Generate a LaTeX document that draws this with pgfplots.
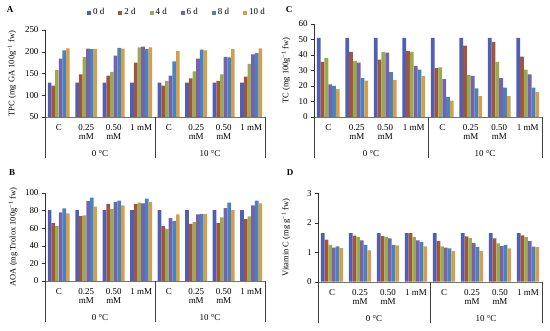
\documentclass[border=0pt]{standalone}
\usepackage{fontspec}
\setmainfont{Liberation Serif}
\usepackage{pgfplots}
\usepackage{pgfplotstable}
\pgfplotsset{compat=1.18}

\definecolor{c0}{HTML}{4E5FB5}
\definecolor{c1}{HTML}{A0563E}
\definecolor{c2}{HTML}{9AAA4C}
\definecolor{c3}{HTML}{7462AE}
\definecolor{c4}{HTML}{4A82BE}
\definecolor{c5}{HTML}{D0A04C}

\pgfplotstableread{
x d0 d2 d4 d6 d8 d10
0 129 122 158 184 203 208
1 129 148 188 207 206 206
2 129 145 154 191 209 207
3 129 175 210 212 206 210
4 129 122 133 145 178 202
5 129 139 155 184 205 203
6 129 133 148 188 187 206
7 129 143 172 194 197 208
}\tpc

\pgfplotstableread{
x d0 d2 d4 d6 d8 d10
0 51 35.5 38 21 20 18
1 51 42 36 35 25 23.5
2 51 37 42 41.5 29 24
3 51 42.5 42 33 30.5 26.5
4 51 31.5 32 24.5 13 10.5
5 51 46 27 26.5 18.5 13.5
6 51 48.5 35.5 25 19 13.5
7 51 39 30.5 27.5 19 16
}\tc

\pgfplotstableread{
x d0 d2 d4 d6 d8 d10
0 80.5 65.8 62.4 78 82.5 76.8
1 80.5 73.8 74.5 90.9 94.7 84.4
2 80.5 87.5 81.7 90 91.2 86
3 80.5 87.5 89 88.2 93.5 90
4 80.5 62.4 59.3 71.5 68 75.7
5 80.5 65 67 75.7 76.4 76
6 80.5 65.8 72.2 82.9 89 80.6
7 80.5 70.3 73.4 86 91.2 88.2
}\aoa

\pgfplotstableread{
x d0 d2 d4 d6 d8 d10
0 1.65 1.43 1.25 1.16 1.20 1.14
1 1.65 1.56 1.52 1.40 1.25 1.06
2 1.65 1.55 1.52 1.47 1.25 1.23
3 1.65 1.65 1.52 1.40 1.35 1.20
4 1.65 1.38 1.20 1.16 1.13 1.04
5 1.65 1.54 1.49 1.31 1.17 1.04
6 1.65 1.47 1.30 1.21 1.25 1.13
7 1.65 1.57 1.51 1.38 1.19 1.17
}\vitc

\newcommand{\sixbars}[1]{%
  \addplot[fill=c0, draw=none, bar shift=-0.3333] table[x=x,y=d0]{#1};
  \addplot[fill=c1, draw=none, bar shift=-0.2] table[x=x,y=d2]{#1};
  \addplot[fill=c2, draw=none, bar shift=-0.0667] table[x=x,y=d4]{#1};
  \addplot[fill=c3, draw=none, bar shift=0.0667] table[x=x,y=d6]{#1};
  \addplot[fill=c4, draw=none, bar shift=0.2] table[x=x,y=d8]{#1};
  \addplot[fill=c5, draw=none, bar shift=0.3333] table[x=x,y=d10]{#1};
}

\newcommand{\groups}{%
  \draw[black!75] (rel axis cs:0,0) -- ([yshift=-41bp]rel axis cs:0,0);
  \draw[black!75] (rel axis cs:0.5,0) -- ([yshift=-41bp]rel axis cs:0.5,0);
  \draw[black!75] (rel axis cs:1,0) -- ([yshift=-41bp]rel axis cs:1,0);
  \node[font=\fontsize{9}{10}\selectfont] at ([yshift=-37bp]rel axis cs:0.25,0) {0 °C};
  \node[font=\fontsize{9}{10}\selectfont] at ([yshift=-37bp]rel axis cs:0.75,0) {10 °C};
}

\pgfplotsset{panel/.style={
  scale only axis, ybar, bar width=0.1333, clip mode=individual,
  anchor=south west,
  xmin=-0.5, xmax=7.5, xtick={0,...,7},
  xticklabels={C,0.25\\mM,0.50\\mM,1 mM,C,0.25\\mM,0.50\\mM,1 mM},
  xticklabel style={align=center, font=\fontsize{9}{9.5}\selectfont, yshift=-1bp},
  x tick style={draw=none},
  axis x line*=bottom, axis y line*=left,
  x axis line style={black!55, -},
  y axis line style={black!80, -},
  tick align=outside, major tick length=3bp,
  ytick style={black!80},
  yticklabel style={font=\fontsize{9}{10}\selectfont, /pgf/number format/assume math mode=true},
  ylabel style={font=\fontsize{8.5}{9}\selectfont, anchor=center},
}}

\begin{document}
\begin{tikzpicture}
\useasboundingbox (0,0) rectangle (550bp,331bp);

% Panel labels
\node[font=\bfseries\fontsize{9}{10}\selectfont] at (10bp,321bp) {A};
\node[font=\bfseries\fontsize{9}{10}\selectfont] at (289bp,321bp) {C};
\node[font=\bfseries\fontsize{9}{10}\selectfont] at (12bp,158bp) {B};
\node[font=\bfseries\fontsize{9}{10}\selectfont] at (290bp,158bp) {D};

% Panel A
\begin{axis}[panel, at={(45bp,214bp)}, width=220bp, height=87bp,
  ymin=50, ymax=250, ytick={50,100,150,200,250},
  ylabel={TPC (mg GA 100g\textsuperscript{−1} fw)},
  ylabel style={at={(axis description cs:-0.15,0.5)}},
  legend columns=6,
  legend style={draw=none, at={(0.6,1.2)}, anchor=center,
    font=\fontsize{9}{10}\selectfont,
    /tikz/every even column/.append style={column sep=12bp}},
  legend image code/.code={\path[#1, draw=none] (0bp,-2bp) rectangle (4bp,2bp);},
]
\sixbars{\tpc}
\groups
\legend{0 d,2 d,4 d,6 d,8 d,10 d}
\end{axis}

% Panel C
\begin{axis}[panel, at={(314bp,214bp)}, width=228bp, height=93bp,
  ymin=0, ymax=60, ytick={0,10,...,60},
  ylabel={TC (mg 100g\textsuperscript{−1} fw)},
  ylabel style={at={(axis description cs:-0.123,0.5)}},
]
\sixbars{\tc}
\groups
\end{axis}

% Panel B
\begin{axis}[panel, at={(45bp,50bp)}, width=220bp, height=88bp,
  ymin=0, ymax=100, ytick={0,20,...,100},
  ylabel={AOA (mg Trolox 100g\textsuperscript{−1} fw)},
  ylabel style={at={(axis description cs:-0.145,0.5)}},
]
\sixbars{\aoa}
\groups
\end{axis}

% Panel D
\begin{axis}[panel, at={(318bp,49.3bp)}, width=224bp, height=88.4bp,
  ymin=0, ymax=3, ytick={0,1,2,3},
  ylabel={Vitamin C (mg g\textsuperscript{−1} fw)},
  ylabel style={at={(axis description cs:-0.143,0.5)}},
]
\sixbars{\vitc}
\groups
\end{axis}
\end{tikzpicture}
\end{document}
